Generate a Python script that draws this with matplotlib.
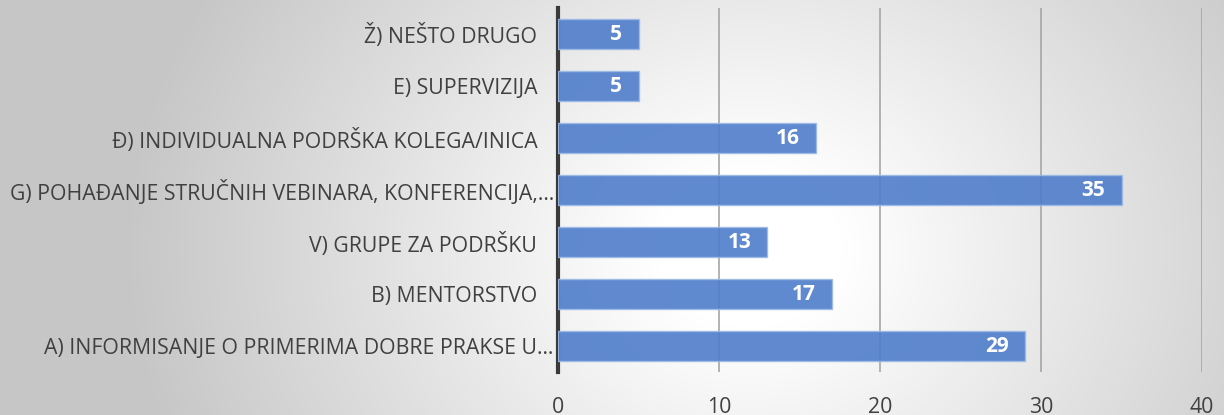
import numpy as np
import matplotlib.pyplot as plt

labels = [
    "A) INFORMISANJE O PRIMERIMA DOBRE PRAKSE U…",
    "B) MENTORSTVO   ",
    "V) GRUPE ZA PODRŠKU   ",
    "G) POHAĐANJE STRUČNIH VEBINARA, KONFERENCIJA,…",
    "Đ) INDIVIDUALNA PODRŠKA KOLEGA/INICA   ",
    "E) SUPERVIZIJA   ",
    "Ž) NEŠTO DRUGO   ",
]
values = [29, 17, 13, 35, 16, 5, 5]
x_ticks = [0, 10, 20, 30, 40]

plt.rcParams['font.family'] = ['Open Sans', 'DejaVu Sans']

W, H = 1224, 415
fig = plt.figure(figsize=(W / 100, H / 100), dpi=100)

# radial gradient background
yy, xx = np.mgrid[0:H, 0:W]
r = np.sqrt(((xx - 750) / 620.0) ** 2 + ((yy - 250) / 520.0) ** 2)
shade = np.clip(1.0 - 0.22 * np.clip(r - 0.15, 0, None) / 0.85, 0.78, 1.0)
bg = fig.add_axes([0, 0, 1, 1], zorder=0)
bg.imshow(np.dstack([shade] * 3), aspect='auto', interpolation='bilinear')
bg.axis('off')

ax = fig.add_axes([558 / W, 1 - 372 / H, (1202 - 558) / W, (372 - 8) / H], zorder=1)
ax.patch.set_alpha(0)

ypos = np.arange(len(labels))
bars = ax.barh(ypos, values, height=0.57, color='#4f7dcb', alpha=0.9,
               edgecolor='#9dbbe6', linewidth=1, zorder=3)

for b, v in zip(bars, values):
    ax.text(b.get_width() - 1.0, b.get_y() + b.get_height() / 2, str(v),
            ha='right', va='center', color='white', fontsize=15,
            fontweight='bold', zorder=4)

ax.set_xlim(0, 40)
ax.set_ylim(-0.5, len(labels) - 0.5)
ax.set_xticks(x_ticks)
ax.set_yticks(ypos)
ax.set_yticklabels(labels)
ax.grid(axis='x', color='#a6a6a6', linewidth=1.2, zorder=1)
ax.set_axisbelow(True)

for s in ['top', 'right', 'bottom']:
    ax.spines[s].set_visible(False)
ax.spines['left'].set_color('#3a3a3a')
ax.spines['left'].set_linewidth(3)

ax.tick_params(axis='y', length=0, pad=3, labelsize=15.3, labelcolor='#404040')
ax.tick_params(axis='x', length=0, pad=18, labelsize=15.3, labelcolor='#404040')

fig.savefig('out.png', dpi=100)
